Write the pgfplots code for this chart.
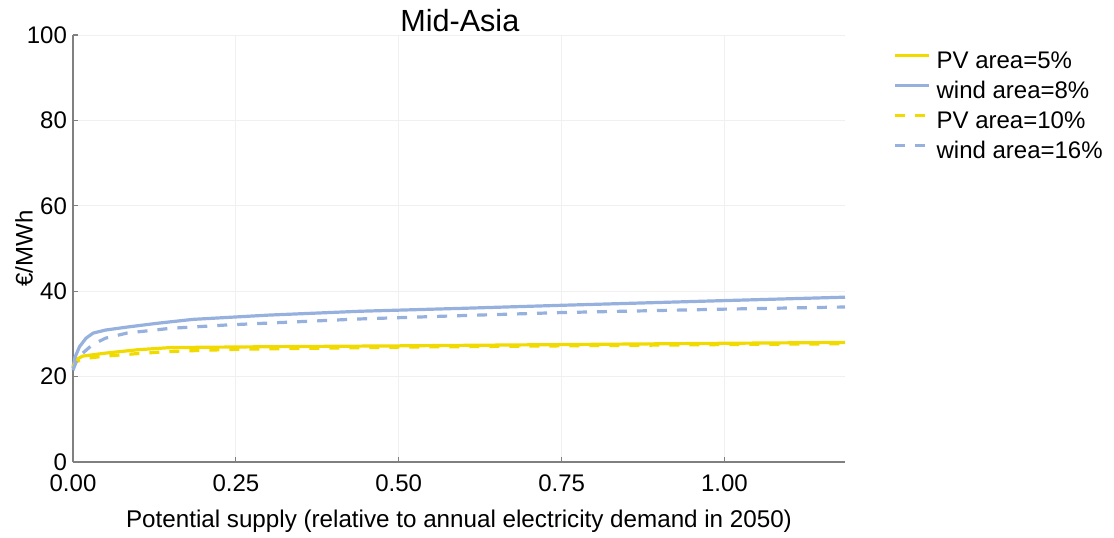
\documentclass[border=0pt]{standalone}
\usepackage{pgfplots}
\pgfplotsset{compat=1.18}
\usepackage{fontspec}
\setmainfont{Liberation Sans}

\definecolor{pvyellow}{RGB}{240,218,0}
\definecolor{windblue}{RGB}{150,177,222}
\definecolor{spine}{RGB}{128,128,128}

\begin{document}
\begin{tikzpicture}
\path[use as bounding box] (-36.5pt,-37.5pt) rectangle (520.5pt,231pt);
\begin{axis}[
  at={(0,0)}, anchor=south west,
  scale only axis, width=386pt, height=213.5pt,
  xmin=0, xmax=1.185, ymin=0, ymax=100,
  xtick={0,0.25,0.5,0.75,1.0},
  xticklabels={0.00,0.25,0.50,0.75,1.00},
  ytick={0,20,40,60,80,100},
  axis x line*=bottom, axis y line*=left,
  axis line style={spine, line width=1pt, -},
  tick style={spine, line width=0.6pt},
  tick align=inside, major tick length=2.5pt,
  grid=major, grid style={gray!12, line width=0.5pt},
  /pgf/number format/assume math mode=true,
  tick label style={font=\fontsize{12}{14}\selectfont, black},
  yticklabel style={xshift=0.5pt},
  xticklabel style={yshift=-3pt},
  title={Mid-Asia},
  title style={font=\fontsize{15.3}{18}\selectfont, at={(0.501,1)}, anchor=center, yshift=1pt},
  xlabel={Potential supply (relative to annual electricity demand in 2050)},
  xlabel style={font=\fontsize{12.1}{14}\selectfont, at={(axis description cs:0.5,-0.138)}, anchor=center},
  ylabel={€/MWh},
  ylabel style={font=\fontsize{12}{14}\selectfont, at={(axis description cs:-0.0635,0.5)}, anchor=center},
  legend style={draw=none, fill=none, at={(1.0622,0.965)}, anchor=north west,
    font=\fontsize{12}{14}\selectfont, row sep=3.5pt, column sep=3pt, inner sep=0pt,
    nodes={inner sep=0pt, text height=9pt, text depth=2.5pt}},
  legend cell align=left,
  legend image code/.code={\draw[#1] (0pt,3pt) -- (17pt,3pt);},
  clip=false,
]
\addplot[pvyellow, line width=1.6pt] table {
x y
0 22.5
0.005 24.0
0.015 24.8
0.05 25.5
0.1 26.3
0.15 26.8
0.3 27.0
0.5 27.2
0.75 27.5
1.0 27.8
1.185 28.0
};
\addlegendentry{PV area=5\%}
\addplot[windblue, line width=1.6pt] table {
x y
0 22.0
0.003 24.5
0.01 27.0
0.02 29.0
0.031 30.2
0.05 30.9
0.083 31.6
0.13 32.5
0.184 33.4
0.3 34.4
0.44 35.3
0.6 36.0
0.75 36.7
1.0 37.8
1.185 38.6
};
\addlegendentry{wind area=8\%}
\addplot[pvyellow, line width=1.6pt, dash pattern=on 5pt off 5pt] table {
x y
0 22.3
0.005 23.5
0.02 24.3
0.05 24.8
0.1 25.4
0.15 25.9
0.25 26.4
0.5 26.9
0.75 27.2
1.0 27.5
1.185 27.7
};
\addlegendentry{PV area=10\%}
\addplot[windblue, line width=1.6pt, dash pattern=on 5pt off 5pt] table {
x y
0 21.5
0.005 23.5
0.015 25.5
0.03 27.5
0.05 29.0
0.083 30.2
0.149 31.3
0.237 32.1
0.44 33.5
0.6 34.3
0.75 35.0
1.0 35.8
1.185 36.3
};
\addlegendentry{wind area=16\%}
\end{axis}
\end{tikzpicture}
\end{document}
